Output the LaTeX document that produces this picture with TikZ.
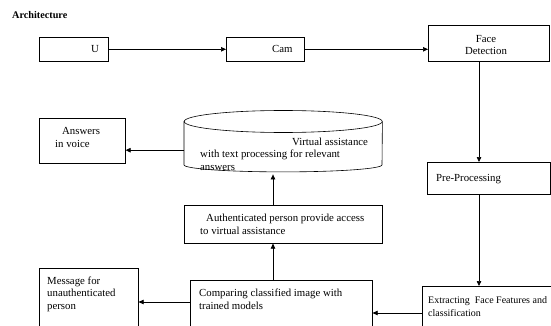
\documentclass[tikz,border=0pt]{standalone}
\usepackage{fontspec}
\setmainfont{Liberation Serif}
\usetikzlibrary{positioning}
\usetikzlibrary{arrows.meta}
\usetikzlibrary{shapes.geometric}
\tikzset{
  caja/.style={
    rectangle, draw=black, line width=0.6pt, fill=white,
    anchor=north west, inner sep=0pt
  },
  texto/.style={
    anchor=base west, inner sep=0pt, align=left,
    font=\fontsize{10.8}{12.5}\selectfont
  },
  flecha/.style={-{Triangle[length=5pt,width=4.5pt]}, line width=0.7pt},
  linea/.style={line width=0.6pt}
}
\begin{document}
\begin{tikzpicture}[x=1pt, y=-1pt]
  \clip (0,0) rectangle (551,326);
  \fill[white] (0,0) rectangle (551,326);

  \node[anchor=base west, inner sep=0pt, font=\fontsize{10.2}{11}\selectfont\bfseries] (titulo) at (12,19) {Architecture};

  % fila superior
  \node[caja, minimum width=69pt, minimum height=24pt] (u) at (39,37) {};
  \node[caja, minimum width=78pt, minimum height=24pt] (cam) at (226,37) {};
  \node[caja, minimum width=121pt, minimum height=36pt] (fd) at (428,25) {};
  \node[texto] (uTxt) at (91,52.5) {U};
  \node[texto] (camTxt) at (272,52.5) {Cam};
  \node[anchor=center, inner sep=0pt, align=center, font=\fontsize{10.8}{12.5}\selectfont] (fdTxt) at (486,45) {Face\\Detection};

  % columna derecha
  \node[caja, minimum width=123pt, minimum height=32pt] (pre) at (427,162) {};
  \node[caja, minimum width=140pt, minimum height=60pt] (ext) at (422,286) {};
  \node[texto] (preTxt) at (436,181) {Pre-Processing};
  \node[texto, font=\fontsize{10}{12.5}\selectfont] (extTxt) at (428,316) {Extracting\ \ Face Features and\\classification};

  % centro
  \node[caja, minimum width=182pt, minimum height=60pt] (cmp) at (190,280) {};
  \node[caja, minimum width=198pt, minimum height=38pt] (auth) at (184,205) {};
  \node[minimum width=198pt, minimum height=43pt, inner sep=0pt, anchor=north west] (va) at (184,121.5) {};
  \draw[linea] (va.north) ellipse [x radius=99pt, y radius=11pt];
  \draw[linea] (va.north west) -- (va.south west)
    arc[start angle=180, end angle=360, x radius=99pt, y radius=7pt] -- (va.north east);
  \node[texto] (cmpTxt) at (199,309) {Comparing classified image with\\trained models};
  \node[texto] (authTxt) at (206,234) {Authenticated person provide access\\\hspace*{-6pt}to virtual assistance};
  \node[texto] (vaTxt) at (292,145) {Virtual assistance};
  \node[texto] (vaTxtB) at (200,170) {with text processing for relevant\\answers};

  % columna izquierda
  \node[caja, minimum width=86pt, minimum height=45pt] (ans) at (39,118) {};
  \node[caja, minimum width=99pt, minimum height=70pt] (msg) at (39,268) {};
  \node[texto] (ansTxt) at (62,147) {Answers\\\hspace*{-7pt}in voice};
  \node[texto] (msgTxt) at (47,309) {Message for\\unauthenticated\\person};

  \coordinate (bajada) at (479,0);
  \coordinate (subida) at (273,0);
  \coordinate (c1) at ([yshift=-27pt]ext.north west);
  \coordinate (c2) at ([yshift=-22pt]cmp.north west);
  \coordinate (c3) at ([yshift=-7pt]va.west);
  \coordinate (vaBase) at ([yshift=-9.5pt]va.south);

  \draw[flecha] (u.east) -- (cam.west);
  \draw[flecha] (cam.east) -- (cam.east -| fd.west);
  \draw[flecha] (bajada |- fd.south) -- (bajada |- pre.north);
  \draw[flecha] (bajada |- pre.south) -- (bajada |- ext.north);
  \draw[flecha] (c1) -- (c1 -| cmp.east);
  \draw[flecha] (c2) -- (c2 -| msg.east);
  \draw[flecha] (subida |- cmp.north) -- (subida |- auth.south);
  \draw[flecha] (subida |- auth.north) -- (subida |- vaBase);
  \draw[flecha] (c3) -- (c3 -| ans.east);
\end{tikzpicture}
\end{document}
